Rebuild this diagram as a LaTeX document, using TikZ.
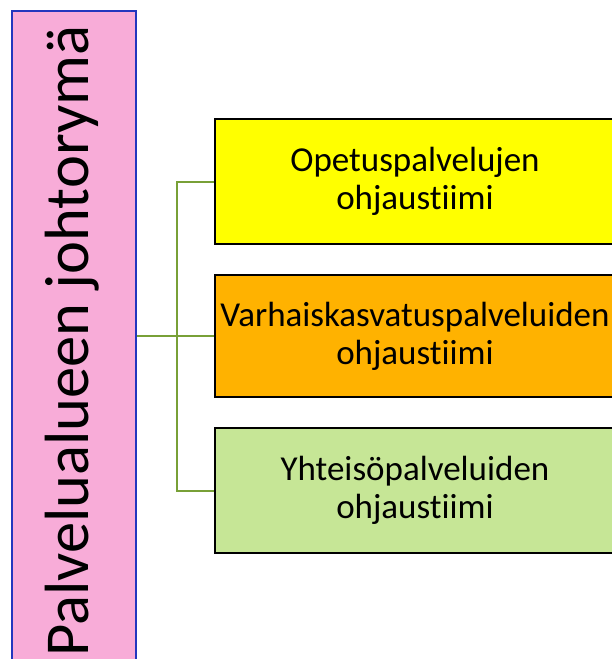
\documentclass[tikz,border=0pt]{standalone}
\usepackage{fontspec}
\setmainfont{Carlito}[Ligatures=NoCommon]
\begin{document}
\begin{tikzpicture}[x=1pt,y=-1pt,
  team/.style={draw=black, line width=2pt, minimum width=400pt, align=center,
    font=\fontsize{35}{38}\selectfont, inner sep=0pt},
  link/.style={draw=linkgreen, line width=2pt}]
\definecolor{pinkfill}{RGB}{248,172,216}
\definecolor{groupblue}{RGB}{35,55,190}
\definecolor{teamyellow}{RGB}{255,255,0}
\definecolor{teamorange}{RGB}{255,178,0}
\definecolor{teamgreen}{RGB}{198,230,150}
\definecolor{linkgreen}{RGB}{120,160,55}
\useasboundingbox (0,0) rectangle (611,659);
\fill[white] (0,0) rectangle (611,659);

% steering group, text running bottom to top
\node[draw=groupblue, fill=pinkfill, line width=2.5pt, minimum width=124pt,
  minimum height=650pt, inner sep=0pt] (group) at (74,336) {};
\node[rotate=90, font=\fontsize{62.5}{72}\selectfont, inner sep=0pt] (grouplabel)
  at (72,341) {Palvelualueen johtorymä};

% teams
\node[team, fill=teamyellow, minimum height=125pt] (t1) at (415,181.5)
  {Opetuspalvelujen\\ohjaustiimi};
\node[team, fill=teamorange, minimum height=122pt] (t2) at (415,336)
  {Varhaiskasvatuspalveluiden\\ohjaustiimi};
\node[team, fill=teamgreen, minimum height=125pt] (t3) at (415,490.5)
  {Yhteisöpalveluiden\\ohjaustiimi};

% connectors
\coordinate (bus) at (177,336);
\draw[link] (group.east) -- (t2.west);
\draw[link] (t1.west) -| (bus) |- (t3.west);
\end{tikzpicture}
\end{document}
